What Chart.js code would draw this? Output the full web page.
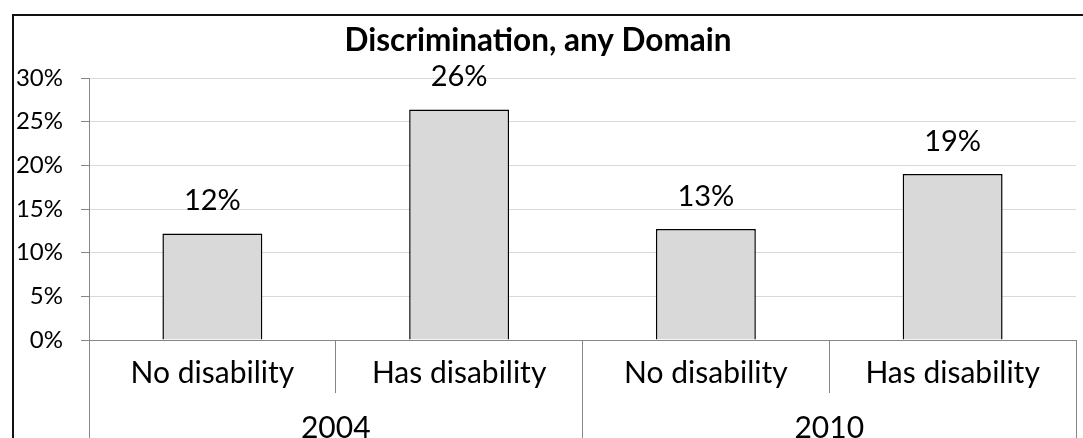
<!DOCTYPE html>
<html>
<head>
<meta charset="utf-8">
<script src="https://cdn.jsdelivr.net/npm/chart.js@4"></script>
<style>
  html, body { margin: 0; padding: 0; background: #ffffff; }
  #wrap { width: 1083px; height: 438px; }
</style>
</head>
<body>
<div id="wrap"><canvas id="c" width="1083" height="438"></canvas></div>
<script>
const titleText = 'Discrimination, any Domain';
const categories = ['No disability', 'Has disability', 'No disability', 'Has disability'];
const years = ['2004', '2010'];
const values = [12.2, 26.4, 12.7, 19.0];
const yTicks = [0, 5, 10, 15, 20, 25, 30];

const FONT = 'Lato, "Open Sans", sans-serif';

const framePlugin = {
  id: 'frame',
  beforeDraw(chart) {
    const ctx = chart.ctx;
    ctx.save();
    ctx.fillStyle = '#ffffff';
    ctx.fillRect(0, 0, chart.width, chart.height);
    ctx.strokeStyle = '#111111';
    ctx.lineWidth = 2;
    ctx.strokeRect(13, 15, 1200, 600);
    ctx.restore();
  }
};

const labelPlugin = {
  id: 'barLabels',
  afterDatasetsDraw(chart) {
    const ctx = chart.ctx;
    const meta = chart.getDatasetMeta(0);
    ctx.save();
    ctx.font = '29px ' + FONT;
    ctx.fillStyle = '#000000';
    ctx.textAlign = 'center';
    ctx.textBaseline = 'alphabetic';
    meta.data.forEach((bar, i) => {
      ctx.fillText(Math.round(values[i]) + '%', bar.x, bar.y - 23);
    });
    ctx.restore();
  }
};

new Chart(document.getElementById('c'), {
  type: 'bar',
  data: {
    labels: categories,
    datasets: [{
      data: values,
      backgroundColor: '#d9d9d9',
      borderColor: '#000000',
      borderWidth: 1.5,
      borderSkipped: 'bottom',
      categoryPercentage: 1.0,
      barPercentage: 0.405
    }]
  },
  options: {
    responsive: false,
    animation: false,
    layout: { padding: { left: 0, right: 7, top: 0, bottom: 0 } },
    plugins: {
      legend: { display: false },
      tooltip: { enabled: false },
      title: {
        display: true,
        text: titleText,
        color: '#000000',
        font: { family: FONT, size: 31.5, weight: 'bold', lineHeight: 1.2 },
        padding: { top: 21.5, bottom: 18.7 }
      }
    },
    scales: {
      y: {
        min: 0,
        max: 30,
        afterBuildTicks(scale) { scale.ticks = yTicks.map(v => ({ value: v })); },
        afterFit(scale) { scale.width = 89; },
        ticks: {
          color: '#000000',
          font: { family: FONT, size: 24 },
          padding: 18,
          callback: v => v + '%'
        },
        grid: { color: '#d9d9d9', tickColor: '#868686', tickLength: 8, lineWidth: 1 },
        border: { color: '#868686', width: 1 }
      },
      x: {
        type: 'category',
        position: 'bottom',
        offset: true,
        afterFit(scale) { scale.height = 53; },
        ticks: {
          color: '#000000',
          font: { family: FONT, size: 30 },
          padding: -37.3,
          maxRotation: 0,
          autoSkip: false
        },
        grid: { offset: true, drawOnChartArea: false, drawTicks: true, tickLength: 53, color: '#868686', tickColor: '#868686' },
        border: { display: true, color: '#868686', width: 1 }
      },
      x2: {
        type: 'category',
        position: 'bottom',
        labels: years,
        offset: true,
        afterFit(scale) { scale.height = 45; },
        ticks: {
          color: '#000000',
          font: { family: FONT, size: 30 },
          padding: -42.3,
          maxRotation: 0,
          autoSkip: false
        },
        grid: { offset: true, drawOnChartArea: false, drawTicks: true, tickLength: 60, color: '#868686', tickColor: '#868686' },
        border: { display: false }
      }
    }
  },
  plugins: [framePlugin, labelPlugin]
});
</script>
</body>
</html>
